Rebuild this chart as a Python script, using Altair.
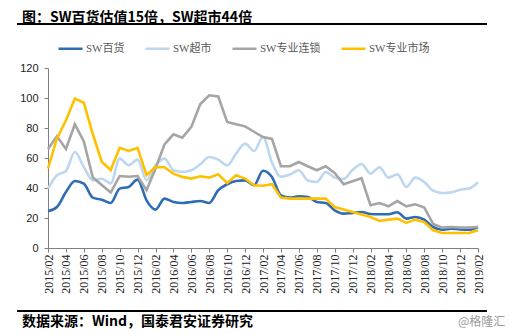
import altair as alt
import pandas as pd

months = list(pd.date_range("2015-02-01", "2019-02-01", freq="MS").strftime("%Y/%m"))

tick_labels = ["2015/02", "2015/04", "2015/06", "2015/08", "2015/10", "2015/12",
               "2016/02", "2016/04", "2016/06", "2016/08", "2016/10", "2016/12",
               "2017/02", "2017/04", "2017/06", "2017/08", "2017/10", "2017/12",
               "2018/02", "2018/04", "2018/06", "2018/08", "2018/10", "2018/12",
               "2019/02"]

series_names = ["SW百货", "SW超市", "SW专业连锁", "SW专业市场"]
series_colors = ["#2E6DB4", "#BDD7EE", "#A5A5A5", "#FFC000"]

baihuo = [24.5, 27.3, 37.3, 44.7, 42.9, 33.6, 32.2, 30.0, 39.6, 40.7, 45.6, 31.8, 25.6,
          32.9, 30.7, 30.0, 30.7, 31.3, 30.0, 38.5, 42.5, 44.7, 45.1, 41.8, 51.5,
          47.4, 35.1, 33.6, 34.5, 34.0, 30.7, 30.0, 25.1, 22.9, 23.4, 24.0, 22.7,
          22.5, 22.5, 23.8, 19.6, 20.7, 18.9, 14.0, 12.2, 12.9, 12.4, 12.2, 14.0]

chaoshi = [39.6, 48.5, 51.3, 64.0, 54.0, 45.1, 46.2, 43.1, 59.6, 55.2, 58.9, 45.1, 55.1,
           59.6, 51.8, 50.7, 51.8, 55.8, 60.7, 58.9, 55.1, 62.9, 69.6, 64.7, 74.0,
           57.0, 47.5, 49.0, 51.8, 45.0, 44.0, 50.7, 47.0, 46.0, 52.0, 56.0, 49.6,
           53.8, 46.9, 49.1, 40.7, 46.9, 44.0, 38.2, 36.7, 37.1, 38.9, 39.6, 43.8]

liansuo = [66.0, 74.5, 66.0, 82.5, 71.0, 47.0, 42.0, 37.0, 48.0, 47.5, 48.0, 38.5, 53.0,
           69.0, 75.8, 73.6, 80.7, 96.0, 101.8, 101.0, 84.0, 82.5, 81.1, 77.5, 74.0,
           72.7, 54.5, 54.5, 57.3, 54.5, 51.8, 54.5, 50.0, 42.5, 44.5, 46.5, 28.5,
           30.0, 27.8, 31.3, 27.8, 29.1, 27.0, 16.0, 13.6, 14.0, 13.6, 13.6, 14.0]

shichang = [53.0, 73.0, 85.0, 99.6, 96.8, 76.0, 57.5, 52.0, 66.8, 64.7, 66.7, 48.5, 54.0,
            53.8, 49.6, 47.4, 46.3, 47.8, 46.9, 49.1, 43.4, 48.5, 46.3, 41.8, 41.5,
            42.5, 33.6, 32.9, 32.9, 32.9, 32.9, 32.9, 27.3, 25.6, 24.0, 22.4, 20.7,
            18.0, 18.9, 19.6, 16.7, 18.9, 17.3, 11.8, 10.0, 10.0, 10.0, 10.0, 11.8]

title_text = "图：SW百货估值15倍，SW超市44倍"
source_text = "数据来源：Wind，国泰君安证券研究"
mark_text_wm = "@格隆汇"

rows = []
for name, vals in zip(series_names, [baihuo, chaoshi, liansuo, shichang]):
    for m, v in zip(months, vals):
        rows.append({"month": m, "value": v, "series": name})
df = pd.DataFrame(rows)

color_scale = alt.Scale(domain=series_names, range=series_colors)

x_enc = alt.X("month:O", sort=months,
              scale=alt.Scale(type="point", padding=0, domain=months),
              axis=alt.Axis(values=tick_labels, labelAngle=270, tickSize=4, labelPadding=2,
                            labelOverlap=False, labelFont="Liberation Serif", labelFontSize=12,
                            labelColor="#222222", domainColor="#7F7F7F", tickColor="#7F7F7F",
                            title=None, grid=False))
y_enc = alt.Y("value:Q", scale=alt.Scale(domain=[0, 120], nice=False),
              axis=alt.Axis(values=[0, 20, 40, 60, 80, 100, 120], tickSize=4, labelPadding=6,
                            labelFont="Liberation Sans", labelFontSize=11, labelColor="#222222",
                            domainColor="#7F7F7F", tickColor="#7F7F7F", title=None, grid=False))
color_enc = alt.Color("series:N", scale=color_scale,
                      legend=alt.Legend(orient="none", legendX=9, legendY=-33, direction="horizontal",
                                        title=None, symbolType="stroke", symbolSize=576,
                                        symbolStrokeWidth=2.5, labelFontSize=11,
                                        labelFont="Liberation Serif, Noto Sans CJK SC",
                                        labelColor="#595959", columnPadding=15, labelOffset=2))

smooth = alt.Chart(df).transform_filter(
    alt.FieldOneOfPredicate(field="series", oneOf=series_names[:2])
).mark_line(strokeWidth=2.6, interpolate="monotone").encode(
    x=x_enc, y=y_enc, color=color_enc, detail="series:N")

sharp = alt.Chart(df).transform_filter(
    alt.FieldOneOfPredicate(field="series", oneOf=series_names[2:])
).mark_line(strokeWidth=2.6).encode(
    x=x_enc, y=y_enc, color=color_enc, detail="series:N")

one = pd.DataFrame({"t": [title_text], "s": [source_text], "w": [mark_text_wm]})

title_mark = alt.Chart(one).mark_text(align="left", baseline="middle", fontSize=14,
                                      fontWeight="bold", font="Noto Sans CJK SC",
                                      color="#000000").encode(
    text="t:N", x=alt.value(-26), y=alt.value(-50))

top_rule = alt.Chart(one).mark_rule(color="#000000", strokeWidth=2).encode(
    x=alt.value(-31), x2=alt.value(439), y=alt.value(-44))

bottom_rule = alt.Chart(one).mark_rule(color="#000000", strokeWidth=2).encode(
    x=alt.value(-31), x2=alt.value(439), y=alt.value(243))

source_mark = alt.Chart(one).mark_text(align="left", baseline="middle", fontSize=14,
                                       fontWeight="bold", font="Noto Sans CJK SC",
                                       color="#000000").encode(
    text="s:N", x=alt.value(-26), y=alt.value(254))

wm_mark = alt.Chart(one).mark_text(align="left", baseline="middle", fontSize=12,
                                   font="Noto Sans CJK SC", color="#9A9A9A").encode(
    text="w:N", x=alt.value(410), y=alt.value(254))

chart = alt.layer(smooth, sharp, title_mark, top_rule, bottom_rule, source_mark, wm_mark).properties(
    width=430, height=180,
    autosize=alt.AutoSizeParams(type="none"),
    padding={"left": 48, "top": 68, "right": 40, "bottom": 86},
    background="#FFFFFF",
).configure_view(stroke=None)

chart.save("out.html", embed_options={"renderer": "svg", "actions": False})
